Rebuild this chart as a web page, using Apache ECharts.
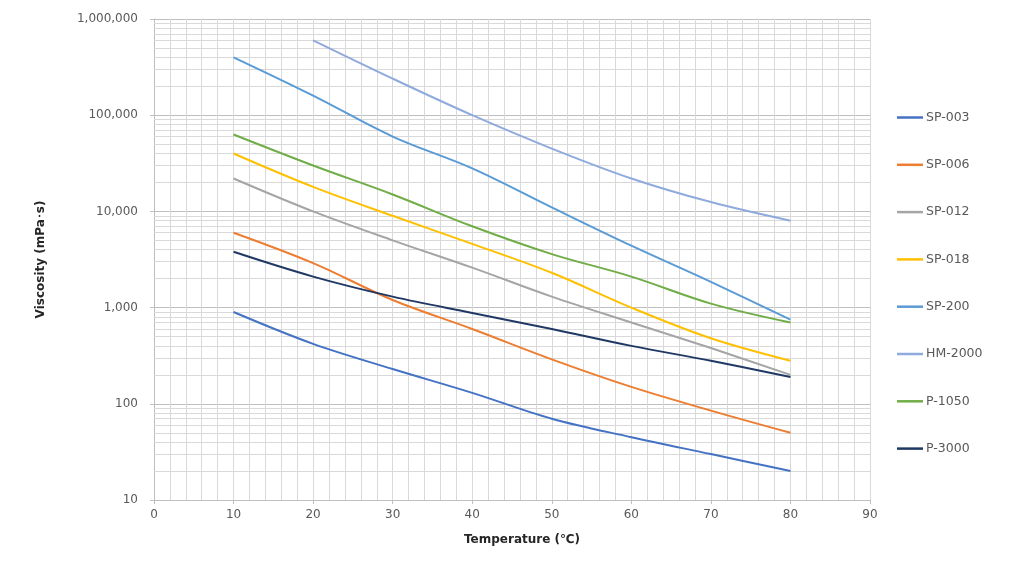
<!DOCTYPE html>
<html>
<head>
<meta charset="utf-8">
<script src="https://cdn.jsdelivr.net/npm/echarts@6/dist/echarts.min.js"></script>
<style>html,body{margin:0;padding:0;background:#fff}#c{width:1024px;height:576px}</style>
</head>
<body>
<div id="c"></div>
<script>
const temps = [10, 20, 30, 40, 50, 60, 70, 80];
const seriesNames = ['SP-003', 'SP-006', 'SP-012', 'SP-018', 'SP-200', 'HM-2000', 'P-1050', 'P-3000'];
const sp003 = [900, 420, 230, 130, 70, 45, 30, 20];
const sp006 = [6000, 2900, 1200, 600, 290, 150, 85, 50];
const sp012 = [22000, 10000, 5000, 2600, 1300, 700, 380, 200];
const sp018 = [40000, 18000, 9000, 4600, 2300, 1000, 480, 280];
const sp200 = [400000, 160000, 60000, 28000, 11000, 4400, 1850, 750];
const hm2000 = [null, 600000, 240000, 100000, 45000, 22000, 12500, 8000];
const p1050 = [63000, 30000, 15000, 7000, 3600, 2100, 1100, 700];
const p3000 = [3800, 2100, 1300, 880, 600, 400, 280, 190];
const xTicks = [0, 10, 20, 30, 40, 50, 60, 70, 80, 90];
const yTicks = [10, 100, 1000, 10000, 100000, 1000000];
const minorMultipliers = [2, 3, 4, 5, 6, 7, 8, 9];

const allValues = [sp003, sp006, sp012, sp018, sp200, hm2000, p1050, p3000];
const colors = ['#4472C4', '#ED7D31', '#A5A5A5', '#FFC000', '#5B9BD5', '#8FAADC', '#70AD47', '#203864'];

const minorGrid = [];
for (let i = 0; i < yTicks.length - 1; i++) {
  for (const m of minorMultipliers) minorGrid.push(yTicks[i] * m);
}

const chart = echarts.init(document.getElementById('c'), null, {renderer: 'canvas'});
const font = '"DejaVu Sans", Verdana, sans-serif';

const series = seriesNames.map((name, i) => ({
  name: name,
  type: 'line',
  smooth: 0.35,
  symbol: 'none',
  z: 5,
  lineStyle: {width: 2, color: colors[i]},
  itemStyle: {color: colors[i]},
  data: temps.map((t, j) => [t, allValues[i][j]]).filter(p => p[1] !== null)
}));

series.unshift({
  name: 'grid-minor',
  type: 'line',
  data: [],
  z: 1,
  silent: true,
  markLine: {
    silent: true,
    symbol: ['none', 'none'],
    label: {show: false},
    animation: false,
    lineStyle: {color: '#d9d9d9', type: 'solid', width: 1},
    emphasis: {disabled: true},
    data: minorGrid.map(v => ({yAxis: v}))
  }
});

chart.setOption({
  animation: false,
  backgroundColor: '#ffffff',
  grid: {left: 154, right: 154, top: 19, bottom: 76, containLabel: false},
  legend: {
    data: seriesNames,
    orient: 'vertical',
    left: 892,
    top: 106,
    icon: 'rect',
    itemWidth: 26,
    itemHeight: 2.5,
    itemGap: 34.3,
    textStyle: {fontFamily: font, fontSize: 12.5, color: '#595959', padding: [0, 0, 0, -2]}
  },
  xAxis: {
    type: 'value',
    min: 0,
    max: 90,
    interval: 10,
    name: 'Temperature (℃)',
    nameLocation: 'middle',
    nameGap: 34,
    nameTextStyle: {fontFamily: font, fontSize: 12, fontWeight: 'bold', color: '#262626', padding: [0, 0, 0, 20]},
    axisLine: {show: true, lineStyle: {color: '#bfbfbf', width: 1}},
    axisTick: {show: true, length: 4, inside: false, lineStyle: {color: '#bfbfbf'}},
    axisLabel: {fontFamily: font, fontSize: 12, color: '#595959', margin: 9},
    splitLine: {show: true, lineStyle: {color: '#d9d9d9', width: 1}},
    minorTick: {show: false, splitNumber: 5},
    minorSplitLine: {show: true, lineStyle: {color: '#d9d9d9', width: 1}}
  },
  yAxis: {
    type: 'log',
    logBase: 10,
    min: 10,
    max: 1000000,
    splitNumber: 5,
    name: 'Viscosity (mPa･s)',
    nameLocation: 'middle',
    nameGap: 107,
    nameRotate: 90,
    nameTextStyle: {fontFamily: font, fontSize: 12, fontWeight: 'bold', color: '#262626'},
    axisLine: {show: true, lineStyle: {color: '#bfbfbf', width: 1}},
    axisTick: {show: true, length: 4, inside: false, lineStyle: {color: '#bfbfbf'}},
    axisLabel: {
      fontFamily: font, fontSize: 12, color: '#595959', margin: 16,
      formatter: v => Math.round(v).toLocaleString('en-US')
    },
    splitLine: {show: true, lineStyle: {color: '#bfbfbf', width: 1}}
  },
  series: series
});
</script>
</body>
</html>
